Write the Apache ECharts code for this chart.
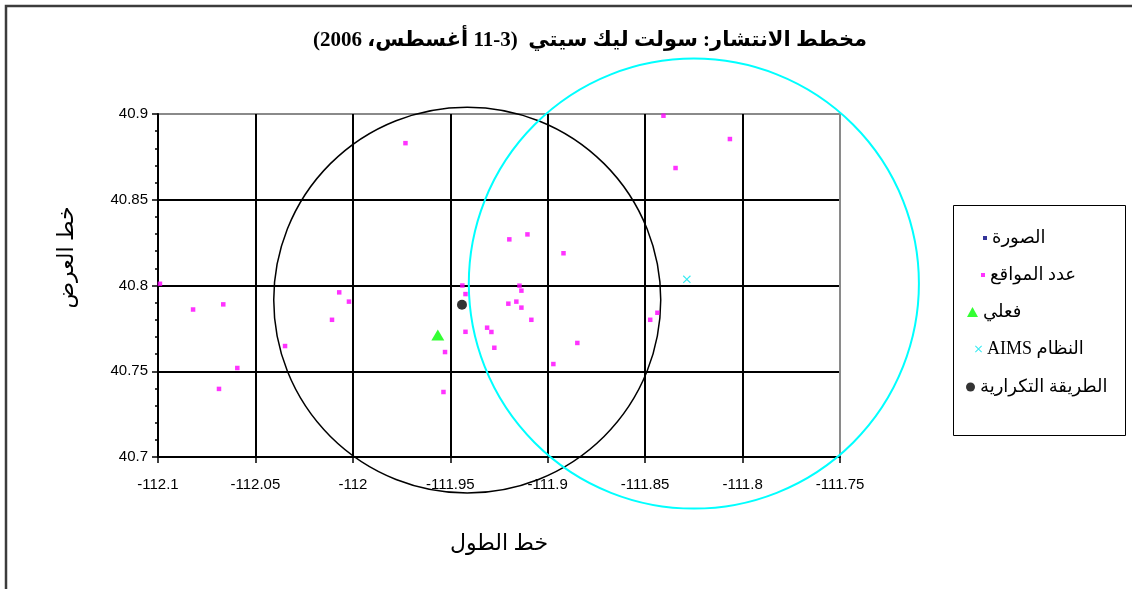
<!DOCTYPE html>
<html>
<head>
<meta charset="utf-8">
<script src="https://cdn.jsdelivr.net/npm/echarts@6/dist/echarts.min.js"></script>
<style>
  html, body { margin: 0; padding: 0; background: #fff; }
  #chart { width: 1132px; height: 589px; }
</style>
</head>
<body>
<div id="chart"></div>
<script>
// Longitude / latitude ticks
const lonTicks = [-112.1, -112.05, -112, -111.95, -111.9, -111.85, -111.8, -111.75];
const latTicks = [40.7, 40.75, 40.8, 40.85, 40.9];

// Series names (legend order)
const seriesNames = ['الصورة', 'عدد المواقع', 'فعلي', 'النظام AIMS', 'الطريقة التكرارية'];

// Reported site locations [lon, lat]
const sitePoints = [
  [-111.973, 40.883], [-112.099, 40.801], [-112.007, 40.796], [-112.082, 40.786],
  [-112.0665, 40.789], [-112.002, 40.7906], [-112.0107, 40.780], [-112.0348, 40.7647],
  [-112.0593, 40.7519], [-112.0687, 40.7397], [-111.9438, 40.800], [-111.9422, 40.795],
  [-111.9422, 40.773], [-111.9311, 40.7754], [-111.9289, 40.7729], [-111.9274, 40.7637],
  [-111.9527, 40.7612], [-111.9535, 40.7379], [-111.9197, 40.8269], [-111.9104, 40.8298],
  [-111.8919, 40.8188], [-111.9145, 40.7999], [-111.9135, 40.797], [-111.9202, 40.7894],
  [-111.9161, 40.7906], [-111.9135, 40.7871], [-111.9084, 40.780], [-111.8848, 40.7665],
  [-111.8971, 40.7542], [-111.8474, 40.780], [-111.8437, 40.7841], [-111.8406, 40.899],
  [-111.8065, 40.8854], [-111.8344, 40.8685]
];
const imagePoints = [];
const actualPoint = [[-111.9564, 40.7711]];
const aimsPoint = [[-111.8286, 40.8036]];
const iterPoint = [[-111.944, 40.7888]];

// Uncertainty circles: [centerLon, centerLat, radiusLon, radiusLat]
const iterCircle = [[-111.9413, 40.7915, 0.0993, 0.1125]];
const aimsCircle = [[-111.825, 40.8011, 0.1155, 0.1312]];

const RLE = '\u202B', PDF = '\u202C';
const rtl = s => RLE + s + PDF;
const serif = '"Liberation Serif", "DejaVu Serif", "DejaVu Sans", serif';
const sans = '"Liberation Sans", Arial, sans-serif';

function fmt(v) { return String(parseFloat(v.toFixed(2))); }

function circleItem(color, width) {
  return function (params, api) {
    const c = api.coord([api.value(0), api.value(1)]);
    const s = api.size([api.value(2), api.value(3)]);
    const rx = s[0], ry = s[1];
    const d = 'M' + (c[0] - rx) + ' ' + c[1] +
      ' A' + rx + ' ' + ry + ' 0 1 0 ' + (c[0] + rx) + ' ' + c[1] +
      ' A' + rx + ' ' + ry + ' 0 1 0 ' + (c[0] - rx) + ' ' + c[1] + ' Z';
    return {
      type: 'path',
      shape: { pathData: d },
      style: { fill: 'none', stroke: color, lineWidth: width }
    };
  };
}

const crossPath = 'path://M0,1L1,0L5,4L9,0L10,1L6,5L10,9L9,10L5,6L1,10L0,9L4,5Z';

function legendItem(name, left, top, w, h) {
  return {
    data: [name],
    left: left, top: top,
    orient: 'vertical',
    itemWidth: w, itemHeight: h,
    itemGap: 0,
    formatter: rtl,
    textStyle: { fontFamily: serif, fontSize: 18, color: '#000' }
  };
}

const chart = echarts.init(document.getElementById('chart'));
chart.setOption({
  animation: false,
  backgroundColor: '#fff',
  title: {
    text: rtl('مخطط الانتشار: سولت ليك سيتي  (3-11 أغسطس، 2006)'),
    left: 585, top: 25, textAlign: 'center',
    textStyle: { fontFamily: serif, fontSize: 21, fontWeight: 'bold', color: '#000' }
  },
  graphic: [
    { type: 'rect', silent: true, z: -10,
      shape: { x: 6, y: 6, width: 1300, height: 800 },
      style: { fill: 'none', stroke: '#3c3c3c', lineWidth: 2.5 } },
    { type: 'rect', silent: true, z: 0,
      shape: { x: 953.5, y: 205.5, width: 172, height: 230 },
      style: { fill: '#fff', stroke: '#000', lineWidth: 1 } }
  ],
  legend: [
    legendItem(seriesNames[0], 978, 224, 4, 4),
    legendItem(seriesNames[1], 976, 261, 4, 4),
    legendItem(seriesNames[2], 962, 298, 11, 10),
    legendItem(seriesNames[3], 970, 335, 7, 7),
    legendItem(seriesNames[4], 961, 373, 9, 9)
  ],
  grid: { left: 158, right: 292, top: 114, bottom: 132, show: false },
  xAxis: {
    type: 'value',
    min: lonTicks[0], max: lonTicks[lonTicks.length - 1], interval: 0.05,
    name: 'خط الطول', nameLocation: 'middle', nameGap: 76,
    nameTextStyle: { fontFamily: serif, fontSize: 22, color: '#000' },
    axisLine: { onZero: false, lineStyle: { color: '#000', width: 2 } },
    axisTick: { show: true, length: 6, lineStyle: { color: '#000', width: 1.5 } },
    axisLabel: { margin: 20, fontFamily: sans, fontSize: 15, color: '#000', formatter: fmt },
    splitLine: { show: true, lineStyle: {
      color: ['#000', '#000', '#000', '#000', '#000', '#000', '#000', '#8a8a8a'], width: 2 } }
  },
  yAxis: {
    type: 'value',
    min: latTicks[0], max: latTicks[latTicks.length - 1], interval: 0.05,
    name: 'خط العرض', nameLocation: 'middle', nameGap: 80, nameRotate: 90,
    nameTextStyle: { fontFamily: serif, fontSize: 22, color: '#000', padding: [0, 0, 0, 56] },
    axisLine: { onZero: false, lineStyle: { color: '#000', width: 2 } },
    axisTick: { show: true, length: 6, lineStyle: { color: '#000', width: 1.5 } },
    minorTick: { show: true, splitNumber: 5, length: 3, lineStyle: { color: '#000', width: 1.5 } },
    axisLabel: { margin: 10, fontFamily: sans, fontSize: 15, color: '#000', formatter: fmt },
    splitLine: { show: true, lineStyle: {
      color: ['#000', '#000', '#000', '#000', '#8a8a8a'], width: 2 } }
  },
  series: [
    { type: 'custom', name: 'iterCircle', data: iterCircle, clip: false, silent: true, z: 1,
      encode: { x: 0, y: 1 }, renderItem: circleItem('#000', 1.5) },
    { type: 'custom', name: 'aimsCircle', data: aimsCircle, clip: false, silent: true, z: 1,
      encode: { x: 0, y: 1 }, renderItem: circleItem('#00ffff', 2) },
    { type: 'scatter', name: seriesNames[0], data: imagePoints, symbol: 'rect', symbolSize: 4,
      itemStyle: { color: '#000080' }, z: 3 },
    { type: 'scatter', name: seriesNames[1], data: sitePoints, symbol: 'rect', symbolSize: 4.5,
      itemStyle: { color: '#ff00ff' }, z: 3 },
    { type: 'scatter', name: seriesNames[2], data: actualPoint, symbol: 'triangle', symbolSize: [13, 11],
      itemStyle: { color: '#00ff00' }, z: 4 },
    { type: 'scatter', name: seriesNames[3], data: aimsPoint, symbol: crossPath, symbolSize: 8,
      itemStyle: { color: '#00e5ee' }, z: 4 },
    { type: 'scatter', name: seriesNames[4], data: iterPoint, symbol: 'circle', symbolSize: 10,
      itemStyle: { color: '#000' }, z: 4 }
  ]
});
</script>
</body>
</html>
